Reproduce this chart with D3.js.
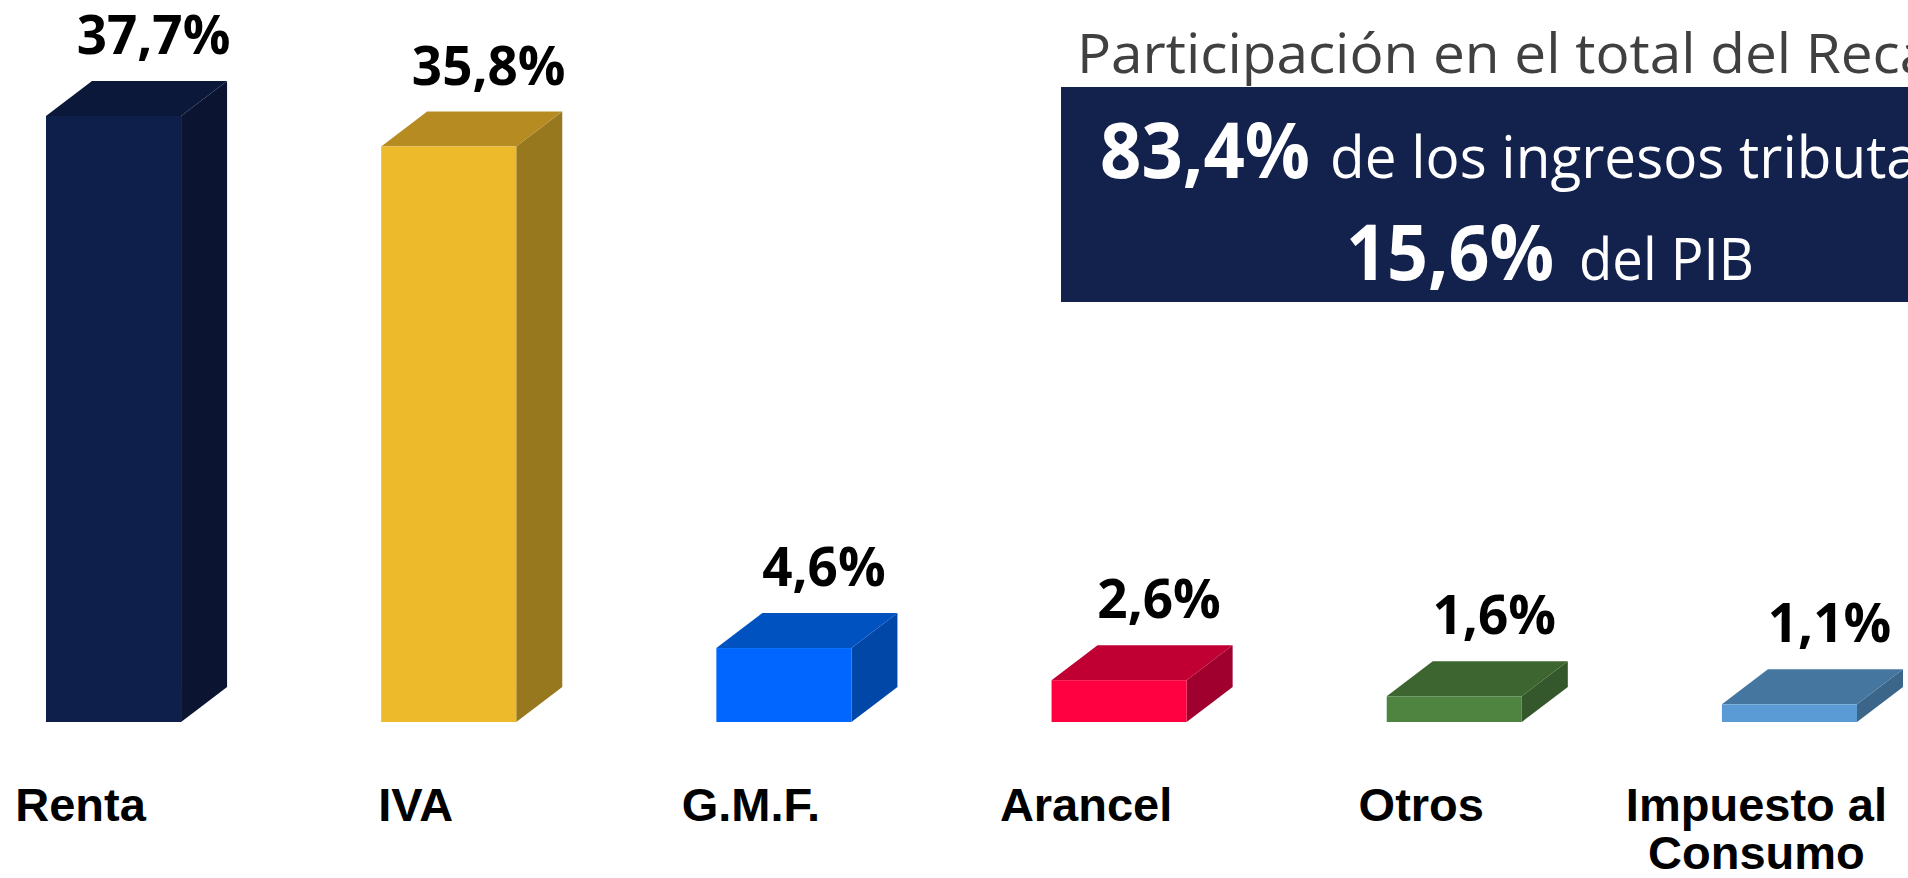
<!DOCTYPE html>
<html>
<head>
<meta charset="utf-8">
<script src="https://cdn.jsdelivr.net/npm/d3@7"></script>
<style>
  html, body { margin: 0; padding: 0; background: #fff; overflow: hidden; }
  svg { display: block; }
</style>
</head>
<body>
<div id="chart"></div>
<script>
// datos
const categories = ["Renta", "IVA", "G.M.F.", "Arancel", "Otros", "Impuesto al Consumo"];
const values = [37.7, 35.8, 4.6, 2.6, 1.6, 1.1];
const frontColors = ["#0f1f4b", "#ecba2b", "#0066ff", "#ff0040", "#4e8440", "#5b9bd5"];
const topColors = ["#0c1839", "#b58b22", "#0052c0", "#c00033", "#3c6530", "#4576a0"];
const sideColors = ["#0b1532", "#98781e", "#0047a8", "#a0002d", "#34572b", "#3c6689"];

const titleText = "Participación en el total del Recaudo";
const boxLine1 = ["83,4%", "de los ingresos tributarios"];
const boxLine2 = ["15,6%", "del PIB"];

const config = {
    width: 1908,
    height: 878,
    baseline: 722,
    left: 46,
    right: 1857,
    depthX: 46,
    depthY: 35,
    labelGap: 27,
    catOffset: -33,
};

const locale = d3.formatLocale({ decimal: ",", thousands: ".", grouping: [3], currency: ["$", ""] });
const fmt = v => locale.format(".1f")(v) + "%";

const svg = d3.select("#chart")
    .append("svg")
    .attr("width", config.width)
    .attr("height", config.height);

const x = d3.scaleBand()
    .domain(categories)
    .range([config.left, config.right])
    .paddingInner(0.597)
    .paddingOuter(0);

const y = d3.scaleLinear()
    .domain([0, 40])
    .range([config.baseline, 79]);

const bw = x.bandwidth();
const dx = config.depthX, dy = config.depthY, b = config.baseline;

const bars = svg.append("g")
    .selectAll("g")
    .data(categories)
    .join("g");

// cara lateral
bars.append("polygon")
    .attr("points", (d, i) => {
        const x0 = x(d) + bw, yt = y(values[i]);
        return [[x0, yt], [x0 + dx, yt - dy], [x0 + dx, b - dy], [x0, b]].join(" ");
    })
    .attr("fill", (d, i) => sideColors[i]);

// cara superior
bars.append("polygon")
    .attr("points", (d, i) => {
        const x0 = x(d), yt = y(values[i]);
        return [[x0, yt], [x0 + dx, yt - dy], [x0 + bw + dx, yt - dy], [x0 + bw, yt]].join(" ");
    })
    .attr("fill", (d, i) => topColors[i]);

// cara frontal
bars.append("rect")
    .attr("x", d => x(d))
    .attr("y", (d, i) => y(values[i]))
    .attr("width", bw)
    .attr("height", (d, i) => b - y(values[i]))
    .attr("fill", (d, i) => frontColors[i]);

// etiquetas de valor
bars.append("text")
    .attr("x", d => x(d) + (bw + dx) / 2 + 17)
    .attr("y", (d, i) => y(values[i]) - dy - config.labelGap)
    .attr("text-anchor", "middle")
    .attr("font-family", "'Open Sans', sans-serif")
    .attr("font-weight", 700)
    .attr("font-size", 53)
    .attr("fill", "#000")
    .text((d, i) => fmt(values[i]));

// etiquetas de categoria
const catLabels = svg.append("g")
    .selectAll("text")
    .data(categories)
    .join("text")
    .attr("x", d => x(d) + bw / 2 + config.catOffset)
    .attr("y", 821)
    .attr("text-anchor", "middle")
    .attr("font-family", "'Liberation Sans', Arial, sans-serif")
    .attr("font-weight", 700)
    .attr("font-size", 47)
    .attr("fill", "#000");

catLabels.each(function (d) {
    const words = d === "Impuesto al Consumo" ? ["Impuesto al", "Consumo"] : [d];
    const t = d3.select(this);
    words.forEach((w, k) => {
        t.append("tspan")
            .attr("x", t.attr("x"))
            .attr("dy", k === 0 ? 0 : 48)
            .text(w);
    });
});

// ajusta el ancho del texto (Calibri es mas estrecha)
function squeeze(sel, sample, target, px, py) {
    const len = sel.node().getSubStringLength(0, sample.length);
    const k = target / len;
    sel.attr("x", 0).attr("y", 0)
        .attr("transform", `translate(${px},${py}) scale(${k},1)`);
}

const title = svg.append("text")
    .attr("font-family", "'Open Sans', sans-serif")
    .attr("font-size", 55)
    .attr("fill", "#404040")
    .text(titleText);
squeeze(title, "Participación en el total del ", 729, 1077, 73);

svg.append("rect")
    .attr("x", 1061)
    .attr("y", 87)
    .attr("width", 900)
    .attr("height", 215)
    .attr("fill", "#13214d");

const boxText = [
    { s: boxLine1[0], bold: true, size: 77, sample: boxLine1[0], w: 210, x: 1100, y: 178 },
    { s: boxLine1[1], bold: false, size: 59, sample: "de los ingresos tributa", w: 588, x: 1330, y: 178 },
    { s: boxLine2[0], bold: true, size: 77, sample: boxLine2[0], w: 208, x: 1346, y: 280 },
    { s: boxLine2[1], bold: false, size: 59, sample: boxLine2[1], w: 175, x: 1579, y: 280 },
];
boxText.forEach(o => {
    const t = svg.append("text")
        .attr("font-family", "'Open Sans', sans-serif")
        .attr("font-weight", o.bold ? 700 : 400)
        .attr("font-size", o.size)
        .attr("fill", "#fff")
        .text(o.s);
    squeeze(t, o.sample, o.w, o.x, o.y);
});
</script>
</body>
</html>
